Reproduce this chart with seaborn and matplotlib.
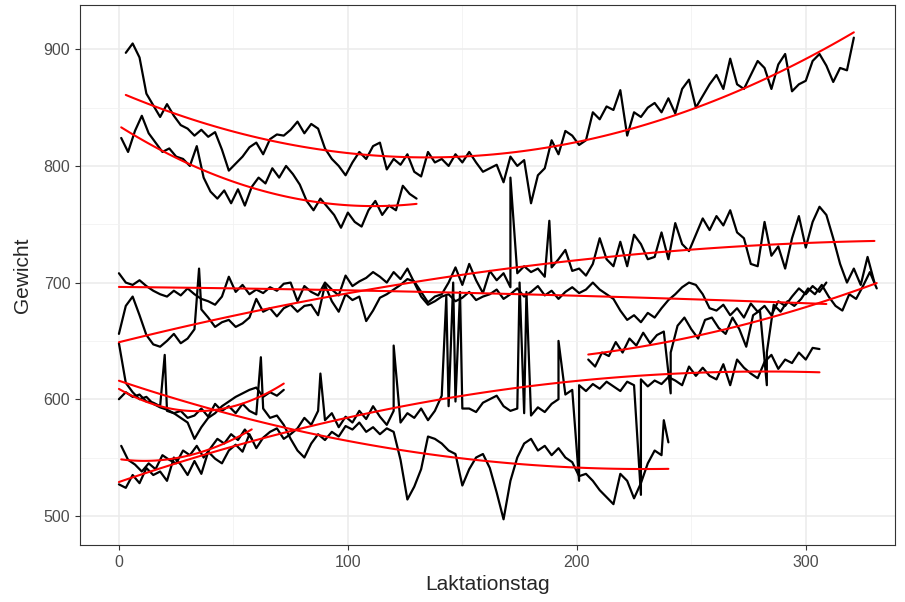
import numpy as np
import pandas as pd
import matplotlib
matplotlib.use("Agg")
import matplotlib.pyplot as plt
import seaborn as sns
from matplotlib.ticker import MultipleLocator

start = {"A": 3, "B": 1, "C": 0, "D": 0, "E": 205, "F": 0, "G": 0, "H": 0, "I": 1}

kuh_A = [897, 905, 893, 862, 852, 842, 853, 843, 835, 832, 826, 831, 825, 829, 814, 796,
         802, 808, 816, 820, 810, 823, 827, 826, 831, 838, 828, 836, 832, 815, 806, 800,
         792, 803, 812, 806, 817, 820, 797, 806, 801, 810, 795, 791, 812, 803, 806, 800,
         810, 803, 812, 803, 795, 798, 801, 786, 808, 800, 805, 768, 792, 798, 822, 810,
         830, 826, 818, 822, 846, 840, 851, 848, 865, 826, 846, 842, 850, 854, 846, 858,
         845, 866, 874, 850, 860, 870, 878, 866, 892, 870, 866, 878, 890, 884, 866, 887,
         896, 864, 870, 873, 890, 896, 886, 872, 884, 882, 910]
kuh_B = [824, 812, 830, 843, 828, 820, 812, 815, 808, 806, 800, 817, 790, 778, 772, 779,
         768, 780, 766, 782, 790, 785, 798, 790, 800, 793, 784, 770, 762, 772, 765, 758,
         747, 760, 752, 748, 762, 770, 758, 766, 762, 783, 776, 772]
kuh_C = [708, 700, 698, 702, 697, 693, 690, 688, 693, 689, 695, 690, 686, 684, 681, 688,
         705, 692, 698, 690, 694, 691, 696, 693, 699, 700, 684, 697, 692, 689, 700, 694,
         689, 706, 697, 701, 704, 709, 705, 700, 709, 703, 712, 700, 688, 681, 684, 688,
         690, 684, 687, 692, 685, 688, 690, 694, 686, 690, 695, 688, 692, 697, 689, 693,
         686, 692, 696, 691, 694, 700, 694, 690, 686, 676, 668, 672, 666, 674, 670, 678,
         685, 690, 696, 700, 698, 690, 678, 676, 681, 672, 678, 670, 682, 675, 680, 672,
         684, 680, 688, 695, 690, 697, 692, 700]
kuh_D = [656, 680, 688, 672, 655, 647, 645, 650, 656, 648, 652, 660, 677, 670, 662, 666,
         668, 662, 665, 670, 686, 675, 678, 671, 678, 681, 675, 680, 681, 672, 698, 684,
         675, 690, 685, 688, 667, 676, 687, 690, 694, 698, 703, 701, 692, 683, 688, 690,
         700, 713, 698, 716, 702, 691, 710, 702, 708, 696, 708, 714, 709, 712, 705, 713,
         720, 728, 710, 712, 706, 716, 738, 720, 714, 735, 714, 741, 733, 720, 722, 743,
         720, 751, 733, 727, 741, 755, 745, 757, 749, 762, 743, 738, 716, 714, 752, 723,
         731, 712, 738, 757, 730, 752, 765, 758, 738, 716, 700, 712, 698, 722, 700]
kuh_E = [634, 628, 640, 637, 649, 640, 652, 646, 657, 648, 655, 658, 640, 663, 670, 660,
         652, 668, 670, 661, 656, 670, 660, 645, 672, 676, 640, 681, 675, 684, 680, 686,
         695, 690, 698, 688, 680, 676, 690, 686, 697, 709, 695]
kuh_F = [527, 524, 535, 528, 541, 535, 538, 530, 550, 544, 535, 547, 536, 555, 549, 545,
         556, 561, 555, 570, 558, 567, 572, 575, 566, 570, 575, 584, 578, 590, 582, 588,
         576, 585, 580, 590, 583, 594, 585, 578, 590, 580, 588, 584, 592, 582, 590, 603,
         594, 598, 592, 592, 589, 597, 600, 603, 594, 590, 592, 588, 586, 593, 589, 596,
         600, 604, 608, 612, 607, 613, 609, 615, 611, 607, 615, 612, 617, 611, 616, 613,
         619, 616, 612, 628, 620, 627, 620, 617, 630, 612, 634, 627, 622, 618, 632, 638,
         626, 634, 631, 640, 634, 644, 643]
kuh_G = [648, 614, 606, 600, 602, 596, 593, 591, 588, 590, 584, 586, 592, 585, 596, 590,
         594, 588, 596, 590, 587, 592, 584, 586, 578, 566, 556, 550, 562, 570, 565, 572,
         568, 577, 574, 580, 572, 576, 570, 575, 572, 548, 514, 525, 540, 568, 566, 562,
         556, 553, 526, 540, 550, 553, 541, 520, 497, 530, 550, 562, 566, 556, 560, 552,
         558, 550, 546, 534, 536, 530, 522, 516, 510, 536, 530, 515, 528, 545, 556, 552,
         563]
kuh_H = [600, 606, 602, 604, 598, 597, 594, 590, 588, 584, 580, 566, 576, 584, 588, 594,
         598, 602, 605, 608, 610, 602, 606, 603, 608]
kuh_I = [560, 548, 544, 538, 545, 540, 552, 548, 545, 556, 552, 560, 550, 558, 566, 562,
         570, 565, 574, 566]

# einzelne Ausreisser (Tag, Gewicht)
spitze_kuh = ["D", "D", "D", "E", "E", "F", "F", "F", "F", "F", "F", "F", "F", "F", "F", "G", "G", "H"]
spitze_tag = [35, 171, 188, 241, 283, 88, 120, 143, 146, 149, 175, 178, 192, 201, 228, 62, 238, 20]
spitze_gew = [712, 790, 753, 605, 612, 622, 646, 688, 700, 692, 700, 692, 650, 530, 518, 636, 582, 638]

reihen = {"A": kuh_A, "B": kuh_B, "C": kuh_C, "D": kuh_D, "E": kuh_E,
          "F": kuh_F, "G": kuh_G, "H": kuh_H, "I": kuh_I}

teile = []
for k, werte in reihen.items():
    tage = start[k] + 3 * np.arange(len(werte))
    teile.append(pd.DataFrame({"Kuh": k, "Laktationstag": tage, "Gewicht": werte}))
teile.append(pd.DataFrame({"Kuh": spitze_kuh, "Laktationstag": spitze_tag, "Gewicht": spitze_gew}))
df = pd.concat(teile, ignore_index=True).sort_values(["Kuh", "Laktationstag"])

sns.set_theme(style="white")
plt.rcParams["font.family"] = ["Liberation Sans", "DejaVu Sans"]

fig = plt.figure(figsize=(9.05, 6.02), dpi=100)
ax = fig.add_axes([0.0884, 0.0947, 0.9006, 0.897])

sns.lineplot(data=df, x="Laktationstag", y="Gewicht", units="Kuh", estimator=None,
             color="black", lw=1.6, ax=ax)

# quadratische Anpassung je Kuh
for k in reihen:
    sub = df[df["Kuh"] == k]
    sns.regplot(data=sub, x="Laktationstag", y="Gewicht", order=2, scatter=False, ci=None,
                color="red", line_kws={"lw": 1.5}, ax=ax)

ax.set_xlim(-17, 339)
ax.set_ylim(475, 938)
ax.xaxis.set_major_locator(MultipleLocator(100))
ax.xaxis.set_minor_locator(MultipleLocator(50))
ax.yaxis.set_major_locator(MultipleLocator(100))
ax.yaxis.set_minor_locator(MultipleLocator(50))
ax.grid(which="major", color="#EBEBEB", lw=1.1)
ax.grid(which="minor", color="#F2F2F2", lw=0.6)
ax.set_axisbelow(True)
for s in ax.spines.values():
    s.set_color("#333333")
    s.set_linewidth(0.8)
ax.tick_params(which="major", length=3.5, width=0.8, color="#333333",
               labelsize=11.5, labelcolor="#4D4D4D", bottom=True, left=True)
ax.tick_params(which="minor", length=0)
ax.set_xlabel("Laktationstag", fontsize=15, labelpad=4)
ax.set_ylabel("Gewicht", fontsize=15, labelpad=8)

fig.savefig("out.png", dpi=100)
